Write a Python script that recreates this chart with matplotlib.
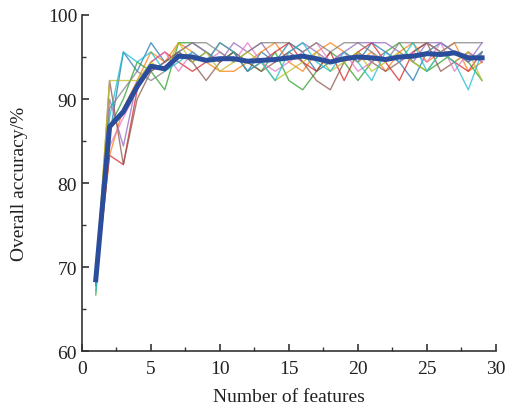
import matplotlib
matplotlib.use('Agg')
from matplotlib import pyplot as plt
from matplotlib.ticker import MultipleLocator

plt.rcParams['font.family'] = ['Liberation Serif', 'DejaVu Serif']

# Число признаков
n_features = list(range(1, 30))

# Точность отдельных запусков (%)
run0 = [68.9, 85.6, 95.6, 93.3, 96.7, 94.4, 95.6, 94.4, 95.6, 94.4, 95.6, 93.3, 95.6, 94.4, 96.7, 95.6, 93.3, 94.4, 95.6, 94.4, 96.7, 95.6, 94.4, 92.2, 95.6, 96.7, 95.6, 94.4, 95.6]
run1 = [68.0, 83.3, 88.9, 92.2, 95.6, 94.4, 96.7, 95.6, 94.4, 93.3, 93.3, 94.4, 95.6, 96.7, 94.4, 93.3, 95.6, 96.7, 95.6, 94.4, 95.6, 93.3, 95.6, 96.7, 94.4, 95.6, 96.7, 93.3, 94.4]
run2 = [66.7, 86.7, 90.0, 94.4, 93.3, 91.1, 96.7, 96.7, 95.6, 94.4, 95.6, 94.4, 93.3, 95.6, 92.2, 91.1, 93.3, 95.6, 94.4, 92.2, 94.4, 95.6, 96.7, 94.4, 93.3, 94.4, 95.6, 94.4, 92.2]
run3 = [68.5, 83.3, 82.2, 91.1, 94.4, 95.6, 94.4, 93.3, 94.4, 96.7, 95.6, 93.3, 94.4, 95.6, 96.7, 94.4, 93.3, 95.6, 92.2, 95.6, 96.7, 94.4, 92.2, 95.6, 96.7, 95.6, 94.4, 93.3, 95.6]
run4 = [68.2, 90.0, 84.4, 92.2, 93.3, 94.4, 95.6, 96.7, 95.6, 94.4, 96.7, 95.6, 96.7, 94.4, 95.6, 96.7, 95.6, 94.4, 95.6, 96.7, 96.7, 96.7, 95.6, 94.4, 96.7, 96.7, 95.6, 94.4, 96.7]
run5 = [67.8, 92.2, 82.2, 90.0, 93.3, 94.4, 95.6, 94.4, 92.2, 94.4, 95.6, 94.4, 93.3, 94.4, 95.6, 94.4, 92.2, 91.1, 94.4, 95.6, 94.4, 93.3, 94.4, 95.6, 96.7, 93.3, 94.4, 95.6, 94.4]
run6 = [68.0, 84.4, 87.8, 91.1, 94.4, 95.6, 93.3, 95.6, 94.4, 95.6, 94.4, 96.7, 94.4, 93.3, 94.4, 95.6, 96.7, 94.4, 95.6, 93.3, 94.4, 95.6, 94.4, 95.6, 94.4, 96.7, 93.3, 95.6, 94.4]
run7 = [67.8, 88.9, 91.1, 93.3, 92.2, 93.3, 95.6, 96.7, 96.7, 95.6, 94.4, 95.6, 96.7, 96.7, 96.7, 95.6, 96.7, 95.6, 96.7, 96.7, 95.6, 94.4, 96.7, 96.7, 96.7, 95.6, 96.7, 96.7, 96.7]
run8 = [68.9, 92.2, 92.2, 92.2, 94.4, 93.3, 96.7, 94.4, 95.6, 93.3, 94.4, 95.6, 94.4, 92.2, 93.3, 94.4, 95.6, 93.3, 94.4, 95.6, 93.3, 94.4, 95.6, 94.4, 93.3, 95.6, 94.4, 95.6, 92.2]
run9 = [67.2, 87.8, 95.6, 94.4, 95.6, 93.3, 94.4, 95.6, 94.4, 96.7, 95.6, 93.3, 94.4, 92.2, 95.6, 96.7, 94.4, 93.3, 95.6, 94.4, 92.2, 95.6, 94.4, 96.7, 93.3, 95.6, 94.4, 91.1, 95.6]
runs = [run0, run1, run2, run3, run4, run5, run6, run7, run8, run9]

# Средняя точность
mean_acc = [68.5, 86.7, 88.5, 91.5, 93.9, 93.6, 95.1, 95.0, 94.6, 94.8, 94.8, 94.5, 94.6, 94.7, 94.9,
            95.1, 94.8, 94.4, 94.8, 95.0, 94.9, 94.7, 95.0, 95.1, 95.4, 95.3, 95.5, 94.9, 94.9]

colors = ['tab:blue', 'tab:orange', 'tab:green', 'tab:red', 'tab:purple',
          'tab:brown', 'tab:pink', 'tab:gray', 'tab:olive', 'tab:cyan']

fig = plt.figure(figsize=(5.06, 4.10), dpi=100)
ax = fig.add_axes([0.162, 0.141, 0.818, 0.820])

for run, c in zip(runs, colors):
    ax.plot(n_features, run, color=c, linewidth=1.0, alpha=0.75)
ax.plot(n_features, mean_acc, color='#2a4d9c', linewidth=3.6)

ax.set_xlim(0, 30)
ax.set_ylim(60, 100)
ax.xaxis.set_major_locator(MultipleLocator(5))
ax.xaxis.set_minor_locator(MultipleLocator(2.5))
ax.yaxis.set_major_locator(MultipleLocator(10))
ax.yaxis.set_minor_locator(MultipleLocator(5))
ax.spines['top'].set_visible(False)
ax.spines['right'].set_visible(False)
for s in ['left', 'bottom']:
    ax.spines[s].set_linewidth(1.2)
    ax.spines[s].set_color('#333333')
ax.tick_params(which='major', direction='in', length=5, width=1.2, labelsize=14, colors='#333333', labelcolor='#222222')
ax.tick_params(which='minor', direction='in', length=3, width=1.0, colors='#333333')
ax.tick_params(axis='x', pad=6)

ax.set_xlabel('Number of features', fontsize=14, color='#222222', labelpad=8)
ax.set_ylabel('Overall accuracy/%', fontsize=14, color='#222222', labelpad=14)

fig.savefig('out.png', dpi=100)
